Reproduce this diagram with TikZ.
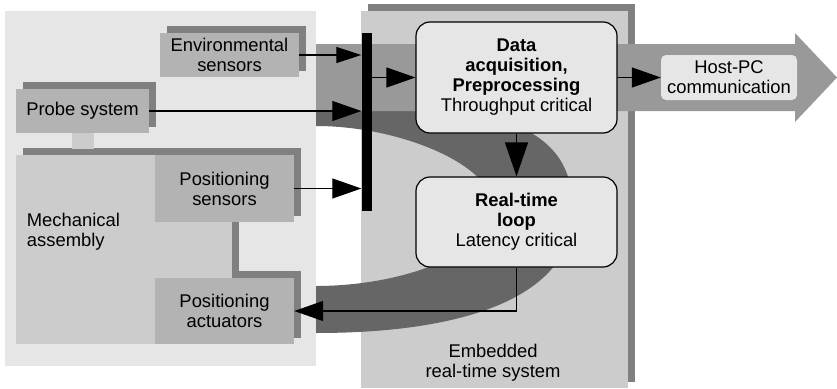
\documentclass[tikz,border=0pt]{standalone}
\usepackage{fontspec}
\setmainfont{Liberation Sans}
\usetikzlibrary{arrows.meta,calc}
\pgfdeclarelayer{back}
\pgfdeclarelayer{shade}
\pgfsetlayers{back,shade,main}
\definecolor{panelL}{HTML}{E6E6E6}
\definecolor{panelE}{HTML}{CCCCCC}
\definecolor{boxgray}{HTML}{B3B3B3}
\definecolor{shadegray}{HTML}{808080}
\definecolor{loopgray}{HTML}{666666}
\definecolor{flowgray}{HTML}{999999}
\definecolor{procfill}{HTML}{E6E6E6}
\begin{document}
\begin{tikzpicture}[x=1pt,y=-1pt,
  font=\fontsize{18.4}{20}\selectfont,
  sbox/.style={fill=boxgray, inner sep=0pt, align=center},
  mbox/.style={fill=panelE, inner sep=0pt},
  proc/.style={draw=black, line width=1.2pt, fill=procfill, rounded corners=14pt, inner sep=0pt, align=center},
  conn/.style={line width=1.2pt, -{Triangle[length=29pt,width=20pt]}},
  dropshade/.style={fill=shadegray},
]
\useasboundingbox (0,0) rectangle (837,388);

% ---- background: panels, loop band, data flow arrow ----
\begin{pgfonlayer}{back}
  % sensor / mechanics side
  \fill[panelL] (5,11) rectangle (316,366);
  % embedded system panel with its shadow
  \fill[shadegray] (368,4) rectangle (635,382);
  \fill[panelE] (361,11) rectangle (628,388);
  % control loop band
  \fill[loopgray] (316,100) .. controls (528,100) and (573,140) .. (573,212)
     .. controls (573,290) and (480,333) .. (316,333)
     -- (316,286) .. controls (400,286) and (492,255) .. (492,205)
     .. controls (492,165) and (400,126) .. (316,126) -- cycle;
  % data flow towards the host
  \fill[flowgray] (316,44) -- (795,44) -- (795,33) -- (837,77.5)
     -- (795,122) -- (795,111) -- (316,111) -- cycle;
\end{pgfonlayer}

% ---- hardware blocks ----
\node[mbox, minimum width=216pt, minimum height=189pt] (mech) at (124,249.5) {};
\node[anchor=north west, inner sep=0pt, align=left] (mechlabel) at (26.7,213) {Mechanical\\assembly};
\node[sbox, minimum width=139pt, minimum height=44pt] (env) at (229.5,55) {Environmental\\sensors};
\node[sbox, minimum width=133pt, minimum height=44pt] (probe) at (82.5,111) {Probe system};
\node[sbox, minimum width=139pt, minimum height=67pt] (sens) at (224.5,188.5) {Positioning\\sensors};
\node[sbox, minimum width=139pt, minimum height=66pt] (act) at (224.5,311) {Positioning\\actuators};

% ---- bus bar ----
\node[fill=black, inner sep=0pt, minimum width=10pt, minimum height=178pt] (bus) at (366.5,122) {};

% ---- processing blocks ----
\node[proc, minimum width=201pt, minimum height=111pt] (daq) at (516.5,77.5)
  {\textbf{Data}\\\textbf{acquisition,}\\\textbf{Preprocessing}\\Throughput critical};
\node[proc, minimum width=201pt, minimum height=90pt] (rt) at (516.5,222)
  {\textbf{Real-time}\\\textbf{loop}\\Latency critical};
\node[fill=procfill, rounded corners=5pt, inner sep=0pt, align=center,
      minimum width=136pt, minimum height=45pt] (host) at (729,77.5) {Host-PC\\communication};
\node[align=center, inner sep=0pt] (emblabel) at (493,362.7) {Embedded\\real-time system};

% ---- drop shadows and the probe mount ----
\begin{pgfonlayer}{shade}
  \foreach \n in {mech,env,probe,sens,act}
    \fill[dropshade] ($(\n.south west)+(7,-6.5)$) rectangle ($(\n.north east)+(7,-6.5)$);
  \fill[panelE] ($(probe.south)+(-11,0)$) rectangle ($(probe.south)+(11,16)$);
\end{pgfonlayer}

% ---- signal connectors ----
\draw[line width=1.2pt, -{Triangle[length=25pt,width=16pt]}] (env.east) -- (env.east -| bus.west);
\draw[conn] (probe.east) -- (probe.east -| bus.west);
\draw[conn] (sens.east) -- (sens.east -| bus.west);
\draw[conn] (bus.east |- daq.west) -- (daq.west);
\draw[conn] (daq.east) -- (host.west);
\draw[line width=1.2pt, -{Triangle[length=34pt,width=23pt]}] (daq.south) -- (rt.north);
\draw[conn] (rt.south) |- (act.east);
\end{tikzpicture}
\end{document}
